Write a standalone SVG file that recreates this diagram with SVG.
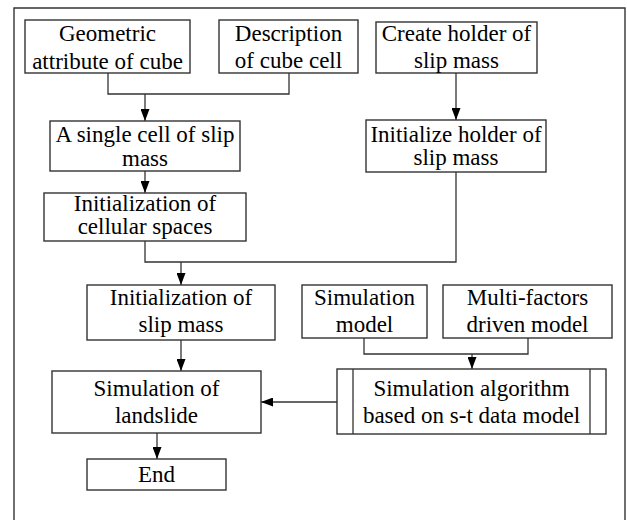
<svg xmlns="http://www.w3.org/2000/svg" width="627" height="520" viewBox="0 0 627 520">
<defs>
<marker id="ah" viewBox="0 0 12 9" refX="12" refY="4.5" markerWidth="12" markerHeight="9" markerUnits="userSpaceOnUse" orient="auto">
<path d="M0,0 L12,4.5 L0,9 Z" fill="#000"/>
</marker>
</defs>
<style>
.box{fill:#fff;stroke:#333;stroke-width:1.4}
.frame{fill:none;stroke:#333;stroke-width:1.4}
.t{font-family:'Liberation Serif','DejaVu Serif',serif;font-size:23px;fill:#000;text-anchor:middle}
.c{fill:none;stroke:#333;stroke-width:1.3}
.a{fill:none;stroke:#333;stroke-width:1.3;marker-end:url(#ah)}
</style>
<rect width="627" height="520" fill="#fff"/>
<path class="frame" d="M14,521 V8 H625 V521"/>
<g id="connectors">
<path class="c" d="M108,73 V94 H289 V73"/>
<path class="a" d="M145,94 V121"/>
<path class="a" d="M145,171 V193"/>
<path class="a" d="M456,73 V120"/>
<path class="c" d="M145,241 V262 H456 V172"/>
<path class="a" d="M181,262 V285"/>
<path class="a" d="M181,340 V371"/>
<path class="c" d="M364,338 V354 H528 V338"/>
<path class="a" d="M472,354 V369"/>
<path class="a" d="M337,402 H261"/>
<path class="a" d="M157,433 V459"/>
</g>
<g id="n1"><rect class="box" x="25" y="20" width="165" height="53"/><text class="t" x="107.5" y="41">Geometric</text><text class="t" x="107.5" y="69">attribute of cube</text></g>
<g id="n2"><rect class="box" x="219" y="20" width="139" height="53"/><text class="t" x="288.5" y="41">Description</text><text class="t" x="288.5" y="68">of cube cell</text></g>
<g id="n3"><rect class="box" x="376" y="22" width="161" height="51"/><text class="t" x="456.5" y="41">Create holder of</text><text class="t" x="456.5" y="68">slip mass</text></g>
<g id="n4"><rect class="box" x="50" y="121" width="190" height="50"/><text class="t" x="145" y="142">A single cell of slip</text><text class="t" x="145" y="166">mass</text></g>
<g id="n5"><rect class="box" x="366" y="120" width="180" height="52"/><text class="t" x="456" y="142">Initialize holder of</text><text class="t" x="456" y="165">slip mass</text></g>
<g id="n6"><rect class="box" x="44" y="193" width="202" height="48"/><text class="t" x="145" y="211">Initialization of</text><text class="t" x="145" y="234">cellular spaces</text></g>
<g id="n7"><rect class="box" x="87" y="285" width="188" height="55"/><text class="t" x="181" y="305">Initialization of</text><text class="t" x="181" y="332">slip mass</text></g>
<g id="n8"><rect class="box" x="302" y="285" width="125" height="53"/><text class="t" x="364.5" y="305">Simulation</text><text class="t" x="364.5" y="332">model</text></g>
<g id="n9"><rect class="box" x="443" y="285" width="169" height="53"/><text class="t" x="527.5" y="305">Multi-factors</text><text class="t" x="527.5" y="332">driven model</text></g>
<g id="n10"><rect class="box" x="337" y="369" width="269" height="65"/><path class="c" d="M353,369 V434 M590,369 V434"/><text class="t" x="471.5" y="396">Simulation algorithm</text><text class="t" x="471.5" y="423">based on s-t data model</text></g>
<g id="n11"><rect class="box" x="52" y="371" width="209" height="62"/><text class="t" x="156.5" y="396">Simulation of</text><text class="t" x="156.5" y="423">landslide</text></g>
<g id="n12"><rect class="box" x="87" y="459" width="139" height="31"/><text class="t" x="156.5" y="482">End</text></g>
</svg>
